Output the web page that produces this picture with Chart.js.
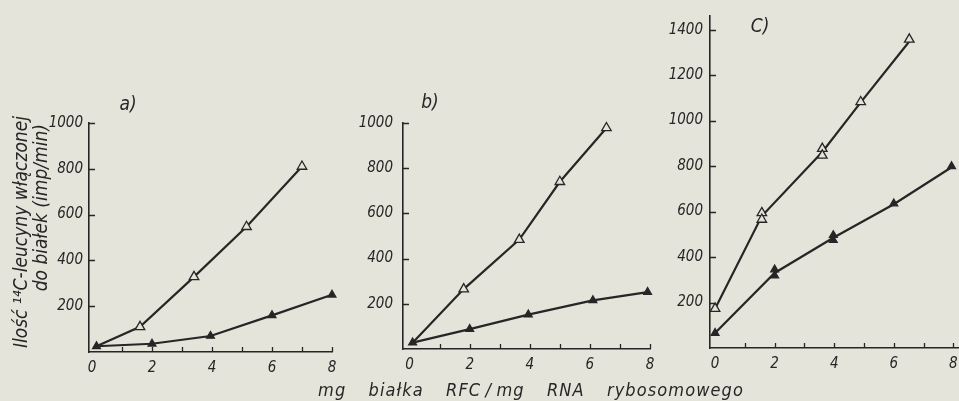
<!DOCTYPE html>
<html>
<head>
<meta charset="utf-8">
<script src="https://cdn.jsdelivr.net/npm/chart.js@4.4.1/dist/chart.umd.min.js"></script>
<style>
  html, body { margin: 0; padding: 0; background: #e5e4da; overflow: hidden; }
  #wrap { position: relative; width: 959px; height: 401px; overflow: hidden; background: #e5e4da; }
  #wrap canvas { position: absolute; left: 0; top: 0; }
  .lbl { position: absolute; transform: translate(-50%, -50%); white-space: pre;
         font-family: 'DejaVu Sans Condensed', 'DejaVu Sans', sans-serif; font-style: italic;
         color: #262626; line-height: 1; }
  .panel { font-size: 19px; }
  #xTitle { font-size: 18px; letter-spacing: 1.1px; word-spacing: 16px; }
</style>
</head>
<body>
<div id="wrap">
  <canvas id="chartA" width="975" height="401"></canvas>
  <canvas id="chartB" width="975" height="401"></canvas>
  <canvas id="chartC" width="975" height="401"></canvas>
  <div class="lbl panel" id="labA" style="left:128px; top:103px;"></div>
  <div class="lbl panel" id="labB" style="left:430px; top:101px;"></div>
  <div class="lbl panel" id="labC" style="left:760px; top:25px;"></div>
  <div class="lbl" id="xTitle" style="left:531px; top:390px;"></div>
</div>
<script>
// Incorporated 14C-leucine vs. mg RFC protein per mg ribosomal RNA, three experiments.

// Panel a
const aOpenX = [0.15, 1.6, 3.4, 5.15, 7.0];
const aOpenY = [25, 110, 328, 547, 810];
const aFullX = [0.15, 2.0, 3.95, 6.0, 8.0];
const aFullY = [25, 36, 70, 160, 250];

// Panel b
const bOpenX = [0.1, 1.8, 3.65, 5.0, 6.55];
const bOpenY = [28, 265, 484, 740, 978];
const bFullX = [0.1, 2.0, 3.95, 6.1, 7.92];
const bFullY = [28, 88, 152, 215, 252];

// Panel c: measured points (duplicates at some doses)
const cOpenX = [0, 1.57, 1.57, 3.6, 3.6, 4.89, 6.52];
const cOpenY = [173, 594, 565, 877, 847, 1082, 1357];
const cFullX = [0, 2, 2, 3.97, 3.97, 6, 7.94];
const cFullY = [66, 345, 318, 496, 474, 635, 799];
// Panel c: drawn curves
const cOpenLineX = [0, 1.57, 3.6, 4.89, 6.52];
const cOpenLineY = [173, 580, 862, 1080, 1348];
const cFullLineX = [0, 2, 3.97, 6, 7.94];
const cFullLineY = [66, 330, 485, 632, 795];

// Texts
const panelLabels = ['a)', 'b)', 'C)'];
const yTitleLines = ['\u00a0\u00a0Ilość \u00b9\u2074C-leucyny włączonej', '\u00a0'.repeat(11) + 'do białek (imp/min)'];
const xTitle = 'mg białka RFC\u2009/\u2009mg RNA rybosomowego';
const xStep = 1;
const yStep = 200;

document.getElementById('labA').textContent = panelLabels[0];
document.getElementById('labB').textContent = panelLabels[1];
document.getElementById('labC').textContent = panelLabels[2];
document.getElementById('xTitle').textContent = xTitle;

const INK = '#262626';
const PAPER = '#e5e4da';
const FAMILY = "'DejaVu Sans Condensed', 'DejaVu Sans', sans-serif";
const CANVAS_W = 975;   // a little wider than the frame; the overflow is hidden

const pts = (xs, ys) => xs.map((x, i) => ({ x, y: ys[i] }));

// Tick marks pointing into the plot area, as on drafted graphs
const inwardTicks = {
  id: 'inwardTicks',
  beforeDatasetsDraw(chart) {
    const { ctx, chartArea: a, scales: { x, y } } = chart;
    ctx.save();
    ctx.strokeStyle = INK;
    ctx.lineWidth = 1.3;
    ctx.beginPath();
    x.ticks.forEach(t => {
      if (t.value === 0) return;
      const p = Math.round(x.getPixelForValue(t.value)) + 0.5;
      ctx.moveTo(p, a.bottom);
      ctx.lineTo(p, a.bottom - 5);
    });
    y.ticks.forEach(t => {
      if (t.value === 0) return;
      const p = Math.round(y.getPixelForValue(t.value)) + 0.5;
      ctx.moveTo(a.left, p);
      ctx.lineTo(a.left + 6, p);
    });
    ctx.stroke();
    ctx.restore();
  }
};

function seriesSet(data, filled, hideFirst, extra) {
  return Object.assign({
    data,
    showLine: true,
    borderColor: INK,
    borderWidth: 2.2,
    tension: 0,
    clip: false,
    pointStyle: 'triangle',
    pointBackgroundColor: filled ? INK : PAPER,
    pointBorderColor: INK,
    pointBorderWidth: 1.3,
    pointRadius: ctx => (hideFirst && ctx.dataIndex === 0) ? 0 : (filled ? 4.5 : 5.5),
    pointHoverRadius: 0
  }, extra || {});
}

function makeChart(id, box, datasets, withYTitle) {
  const tickFont = { family: FAMILY, style: 'italic', size: 15 };
  return new Chart(document.getElementById(id), {
    type: 'scatter',
    data: { datasets },
    options: {
      responsive: false,
      animation: false,
      events: [],
      layout: { padding: { left: box.left - box.yW, top: box.top, right: CANVAS_W - box.right, bottom: 0 } },
      plugins: { legend: { display: false }, tooltip: { enabled: false } },
      scales: {
        x: {
          type: 'linear',
          min: box.xMin, max: box.xMax,
          afterFit: s => { s.height = 401 - box.bottom; },
          border: { color: INK, width: 1.6 },
          // invisible tick marks only reserve the gap above the labels
          grid: { display: true, drawOnChartArea: false, drawTicks: true, tickLength: 7, tickColor: 'rgba(0,0,0,0)' },
          ticks: {
            stepSize: xStep, includeBounds: false, autoSkip: false, maxRotation: 0,
            padding: 0, color: INK, font: tickFont,
            callback: v => (v % 2 === 0 ? String(v) : '')
          }
        },
        y: {
          type: 'linear',
          min: 0, max: box.yMax,
          afterFit: s => { s.width = box.yW; },
          border: { color: INK, width: 1.6 },
          grid: { display: true, drawOnChartArea: false, drawTicks: false },
          ticks: {
            stepSize: yStep, includeBounds: false,
            padding: box.yPad, color: INK, font: tickFont,
            callback: v => (v === 0 ? '' : String(v))
          },
          title: withYTitle ? {
            display: true, text: yTitleLines, color: INK,
            font: { family: FAMILY, style: 'italic', size: 19, lineHeight: 1.05 },
            padding: { top: 12, bottom: 0 }
          } : { display: false }
        }
      }
    },
    plugins: [inwardTicks]
  });
}

makeChart('chartA',
  { left: 89, right: 332, top: 123, bottom: 352, yW: 89, yPad: 6, xMin: -0.1, xMax: 8, yMax: 1000 },
  [
    seriesSet(pts(aFullX, aFullY), true, false, { order: 0 }),
    seriesSet(pts(aOpenX, aOpenY), false, true, { order: 1 })
  ], true);

makeChart('chartB',
  { left: 403, right: 650, top: 123, bottom: 349, yW: 60, yPad: 10, xMin: -0.22, xMax: 8, yMax: 1000 },
  [
    seriesSet(pts(bFullX, bFullY), true, false, { order: 0 }),
    seriesSet(pts(bOpenX, bOpenY), false, true, { order: 1 })
  ], false);

makeChart('chartC',
  { left: 710, right: 959, top: 15, bottom: 348, yW: 60, yPad: 7, xMin: -0.17, xMax: 8.19, yMax: 1460 },
  [
    seriesSet(pts(cFullX, cFullY), true, false, { showLine: false, order: 0 }),
    seriesSet(pts(cOpenX, cOpenY), false, false, { showLine: false, order: 0 }),
    seriesSet(pts(cFullLineX, cFullLineY), true, false, { pointRadius: 0, order: 2 }),
    seriesSet(pts(cOpenLineX, cOpenLineY), false, false, { pointRadius: 0, order: 2 })
  ], false);
</script>
</body>
</html>
